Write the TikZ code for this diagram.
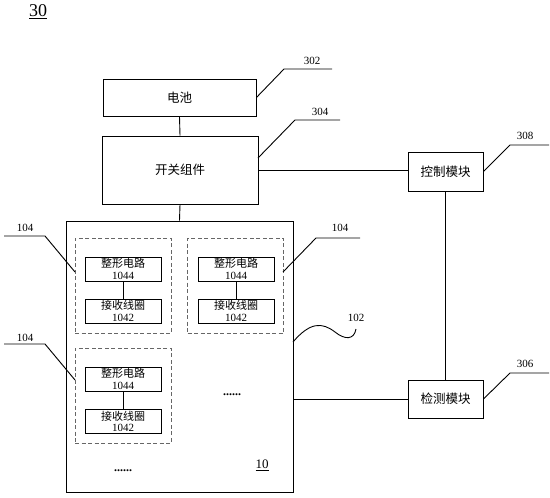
\documentclass[tikz,border=0pt]{standalone}
\usepackage{fontspec}
\setmainfont{Liberation Serif}
\newfontfamily\cjk{Noto Sans CJK SC}

\begin{document}
\begin{tikzpicture}[x=1pt, y=-1pt, line width=0.9pt,
		blockbox/.style={draw, inner sep=0pt, minimum width=#1, font=\cjk\fontsize{12.5}{14}\selectfont},
		cellbox/.style={draw, inner sep=0pt, minimum width=76pt, minimum height=24pt, align=center, font=\fontsize{11}{11.5}\selectfont},
		groupbox/.style={draw, dash pattern={on 4pt off 2.5pt}, gray!80!black, inner sep=0pt, minimum width=96pt, minimum height=95pt},
		reflabel/.style={font=\fontsize{11}{12}\selectfont}]
			\useasboundingbox (0, 0) rectangle (550, 498);
			\node[font=\fontsize{18}{20}\selectfont](N30) at (38, 12){\underline{30}};
			\node[blockbox=153pt, minimum height=37pt](battery) at (179.5, 97.5){电池};
			\node[blockbox=156pt, minimum height=68pt](switch) at (180, 170){开关组件};
			\node[draw, inner sep=0pt, minimum width=227pt, minimum height=271pt](board) at (179.5, 356.5){};
			\node[blockbox=75pt, minimum height=39pt](control) at (445.5, 171.5){控制模块};
			\node[blockbox=75pt, minimum height=38pt](detect) at (445.5, 399){检测模块};
			\draw (battery.south) -- (switch.north);
			\draw (switch.south) -- (board.north);
			\draw (switch.east) -- (switch.east -| control.west);
			\draw (control.south) -- (detect.north);
			\draw (board.east |- detect.west) -- (detect.west);
			% receiver groups
			\node[groupbox](G1) at (123, 285.5){};
			\node[groupbox](G2) at (235.5, 285.5){};
			\node[groupbox](G3) at (123, 395.5){};
			\node[cellbox](S1) at (123, 269){{\cjk 整形电路}\\1044};
			\node[cellbox](C1) at (123, 311){{\cjk 接收线圈}\\1042};
			\node[cellbox](S2) at (236, 269){{\cjk 整形电路}\\1044};
			\node[cellbox](C2) at (236, 311){{\cjk 接收线圈}\\1042};
			\node[cellbox](S3) at (123, 379){{\cjk 整形电路}\\1044};
			\node[cellbox](C3) at (123, 421.5){{\cjk 接收线圈}\\1042};
			\draw (S1.south) -- (C1.north);
			\draw (S2.south) -- (C2.north);
			\draw (S3.south) -- (C3.north);
			\node[font=\bfseries\fontsize{12}{12}\selectfont](dotsR) at (232, 395){......};
			\node[font=\bfseries\fontsize{12}{12}\selectfont](dotsB) at (123, 471){......};
			\node[font=\fontsize{13}{14}\selectfont](N10) at (262, 465){\underline{10}};
			% reference leaders
			\node[reflabel](L302) at (312, 61){302};
			\draw (battery.east) -- (284, 69) -- (332, 69);
			\node[reflabel](L304) at (320, 112){304};
			\draw (258, 158) -- (295, 120) -- (340, 120);
			\node[reflabel](L308) at (525, 136){308};
			\draw (control.east) -- (510, 145) -- (549, 145);
			\node[reflabel](L306) at (525, 364){306};
			\draw (detect.east) -- (510, 373) -- (549, 373);
			\node[reflabel](L104a) at (25, 228){104};
			\draw (4, 236) -- (45, 236) -- (75, 272);
			\node[reflabel](L104b) at (340, 228){104};
			\draw (360, 238) -- (316, 238) -- (283, 272);
			\node[reflabel](L104c) at (25, 338){104};
			\draw (4, 344) -- (45, 344) -- (75, 380);
			\node[reflabel](L102) at (356, 318){102};
			\draw (293, 342) .. controls (310, 322) and (322, 322) .. (335, 332) .. controls (345, 340) and (354, 340) .. (356, 329);
		\end{tikzpicture}
\end{document}
